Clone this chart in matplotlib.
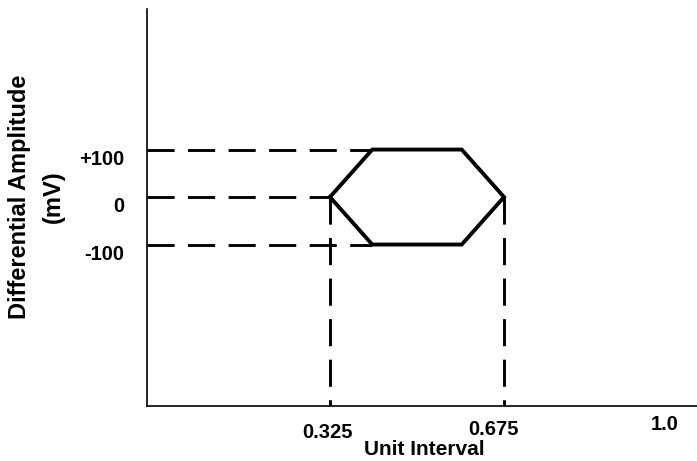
import matplotlib
matplotlib.use('Agg')
import matplotlib.pyplot as plt

plt.rcParams['font.family'] = ['Liberation Sans', 'DejaVu Sans']
plt.rcParams['font.weight'] = 'bold'

# eye diagram mask (unit interval, mV)
eye_x = [0.325, 0.41, 0.59, 0.675, 0.59, 0.41, 0.325]
eye_y = [0, 100, 100, 0, -100, -100, 0]

level_y = [100, 0, -100]
level_labels = ['+100', '0', '-100']
level_end_x = [0.41, 0.325, 0.41]   # where the dashed guide meets the eye

ui_ticks = [0.325, 0.675, 1.0]
ui_labels = ['0.325', '0.675', '1.0']

fig = plt.figure(figsize=(6.97, 4.61), dpi=100)
ax = fig.add_axes([0.2109, 0.1193, 0.789, 0.8612])
ax.set_xlim(-0.043, 1.063)
ax.set_ylim(-440, 396)

dash = (0, (9.3, 4.6))
x0 = ax.get_xlim()[0]
y0 = ax.get_ylim()[0]
for y, xe in zip(level_y, level_end_x):
    ax.plot([x0, xe], [y, y], color='black', lw=2.1, linestyle=dash, dash_capstyle='butt')
for x in [eye_x[0], eye_x[3]]:
    ax.plot([x, x], [0, y0], color='black', lw=2.1, linestyle=dash, dash_capstyle='butt')

ax.plot(eye_x, eye_y, color='black', lw=2.8, solid_joinstyle='miter')

ax.spines['top'].set_visible(False)
ax.spines['right'].set_visible(False)
ax.spines['left'].set_linewidth(1.2)
ax.spines['bottom'].set_linewidth(1.2)
ax.set_xticks([])
ax.set_yticks([])

for y, lab in zip(level_y, level_labels):
    ax.text(-0.042, y, lab, transform=ax.get_yaxis_transform(), ha='right', va='top',
            fontsize=14.5, fontweight='bold')
# the original labels sit a little off their guides
shift_x = [-0.004, -0.022, -0.002]
shift_y = [-0.066, -0.058, -0.046]
for x, lab, dx, dy in zip(ui_ticks, ui_labels, shift_x, shift_y):
    ax.text(x + dx, dy, lab, transform=ax.get_xaxis_transform(), ha='center', va='center',
            fontsize=14.5, fontweight='bold')

ax.text(0.504, -0.109, 'Unit Interval', transform=ax.transAxes, ha='center', va='center',
        fontsize=15, fontweight='bold')
ax.text(-0.231, 0.526, 'Differential Amplitude', transform=ax.transAxes, ha='center',
        va='center', rotation=90, fontsize=17, fontweight='bold')
ax.text(-0.171, 0.526, '(mV)', transform=ax.transAxes, ha='center',
        va='center', rotation=90, fontsize=17, fontweight='bold')

fig.savefig('out.png', dpi=100)
